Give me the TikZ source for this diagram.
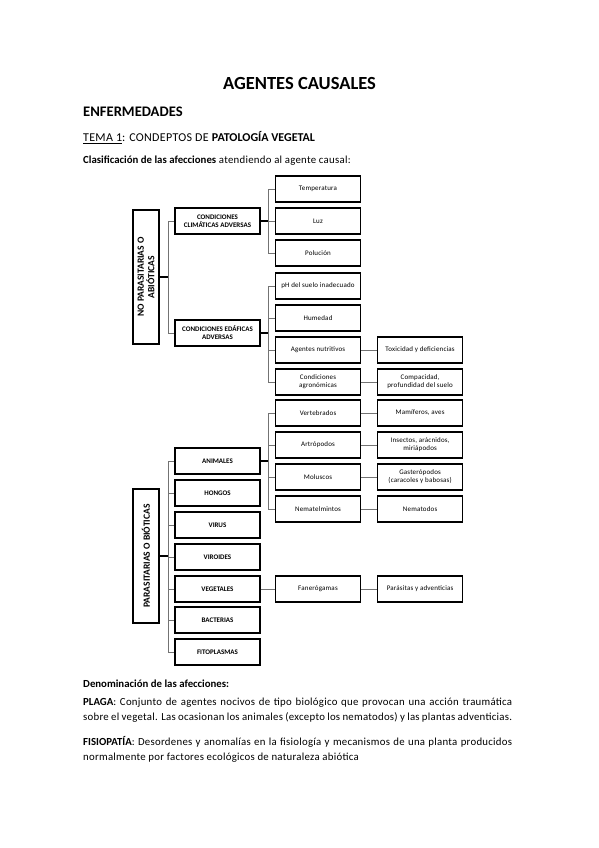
\documentclass[tikz,border=0pt]{standalone}
\usepackage{fontspec}
\setmainfont{Carlito}[LetterSpace=2.5, BoldFeatures={LetterSpace=0}]
\usetikzlibrary{positioning}
\tikzset{
    catBox/.style={draw=black, line width=1.1pt, minimum width=85, minimum height=26, inner sep=1pt, align=center, font=\fontsize{7}{8}\selectfont},
    capBox/.style={catBox, font=\fontsize{7}{8}\selectfont\bfseries},
    rootBox/.style={draw=black, line width=1.3pt, rotate=90, minimum width=134, minimum height=26, inner sep=1pt, align=center, font=\fontsize{9.5}{10.5}\selectfont\bfseries},
    stemLine/.style={black, line width=1.1pt},
    twigLine/.style={black!55, line width=0.7pt},
    bodyText/.style={anchor=base west, inner sep=0pt, font=\fontsize{10.8}{14.5}\selectfont},
    paraText/.style={anchor=north west, inner sep=0pt, text width=429, align=justify, font=\fontsize{10.8}{14.8}\selectfont}
}

\begin{document}
\begin{tikzpicture}[x=1pt, y=-1pt]
    \useasboundingbox (0,0) rectangle (599,848);
    % --- Heading ---
    \node[anchor=base, inner sep=0pt, font=\fontsize{18.5}{21}\selectfont\bfseries] (title) at (299.5,90) {AGENTES CAUSALES};
    \node[bodyText, font=\fontsize{14.6}{17}\selectfont\bfseries] (enf) at (83,117) {ENFERMEDADES};
    \node[bodyText, font=\fontsize{12}{14}\selectfont] (tema) at (83,142) {\underline{TEMA 1}: CONDEPTOS DE \textbf{PATOLOGÍA VEGETAL}};
    \node[bodyText] (clasif) at (83,163) {\textbf{Clasificación de las afecciones} atendiendo al agente causal:};

    % --- No parasitarias ---
    \node[rootBox] (abio) at (146,277) {NO PARASITARIAS O\\ABIÓTICAS};
    \node[capBox] (clim) at (217.5,221) {CONDICIONES\\CLIMÁTICAS ADVERSAS};
    \node[capBox] (edaf) at (217.5,333) {CONDICIONES EDÁFICAS\\ADVERSAS};
    \node[catBox] (temp) at (318,189) {Temperatura};
    \node[catBox] (luz) at (318,221) {Luz};
    \node[catBox] (polu) at (318,253) {Polución};
    \node[catBox] (ph) at (318,286) {pH del suelo inadecuado};
    \node[catBox] (hum) at (318,318) {Humedad};
    \node[catBox] (nutr) at (318,350) {Agentes nutritivos};
    \node[catBox] (agro) at (318,382) {Condiciones\\agronómicas};
    \node[catBox, right=16 of nutr] (toxi) {Toxicidad y deficiencias};
    \node[catBox, right=16 of agro] (comp) {Compacidad,\\profundidad del suelo};

    \coordinate (abioT) at (168,277);
    \draw[stemLine] (abio) -- (abioT);
    \foreach \c in {clim,edaf} \draw[twigLine] (abioT) |- (\c.west);
    \draw[stemLine] (clim.east) -- ++(8,0) coordinate (climT);
    \foreach \c in {temp,luz,polu} \draw[twigLine] (climT) |- (\c.west);
    \draw[stemLine] (edaf.east) -- ++(8,0) coordinate (edafT);
    \foreach \c in {ph,hum,nutr,agro} \draw[twigLine] (edafT) |- (\c.west);
    \draw[twigLine] (nutr) -- (toxi);
    \draw[twigLine] (agro) -- (comp);

    % --- Parasitarias ---
    \node[rootBox] (bio) at (146,556) {PARASITARIAS O BIÓTICAS};
    \node[capBox] (anim) at (217.5,461) {ANIMALES};
    \node[capBox] (hong) at (217.5,493) {HONGOS};
    \node[capBox] (viru) at (217.5,525) {VIRUS};
    \node[capBox] (viro) at (217.5,557) {VIROIDES};
    \node[capBox] (vege) at (217.5,589) {VEGETALES};
    \node[capBox] (bact) at (217.5,620) {BACTERIAS};
    \node[capBox] (fito) at (217.5,652) {FITOPLASMAS};
    \node[catBox] (vert) at (318,413) {Vertebrados};
    \node[catBox] (artr) at (318,445) {Artrópodos};
    \node[catBox] (molu) at (318,477) {Moluscos};
    \node[catBox] (nema) at (318,509) {Nematelmintos};
    \node[catBox] (fane) at (318,589) {Fanerógamas};
    \node[catBox, right=16 of vert] (mami) {Mamíferos, aves};
    \node[catBox, right=16 of artr] (inse) {Insectos, arácnidos,\\miriápodos};
    \node[catBox, right=16 of molu] (gast) {Gasterópodos\\(caracoles y babosas)};
    \node[catBox, right=16 of nema] (nemd) {Nematodos};
    \node[catBox, right=16 of fane] (para) {Parásitas y adventicias};

    \coordinate (bioT) at (168,556);
    \draw[stemLine] (bio) -- (bioT);
    \foreach \c in {anim,hong,viru,viro,vege,bact,fito} \draw[twigLine] (bioT) |- (\c.west);
    \draw[stemLine] (anim.east) -- ++(8,0) coordinate (animT);
    \foreach \c in {vert,artr,molu,nema} \draw[twigLine] (animT) |- (\c.west);
    \draw[twigLine] (vert) -- (mami);
    \draw[twigLine] (artr) -- (inse);
    \draw[twigLine] (molu) -- (gast);
    \draw[twigLine] (nema) -- (nemd);
    \draw[twigLine] (vege) -- (fane);
    \draw[twigLine] (fane) -- (para);

    % --- Denominacion ---
    \node[bodyText] (denom) at (83,687) {\textbf{Denominación de las afecciones:}};
    \node[paraText] (plaga) at (83,698) {\textbf{PLAGA}: Conjunto de agentes nocivos de tipo biológico que provocan una acción traumática\linebreak sobre el vegetal. Las ocasionan los animales (excepto los nematodos) y las plantas adventicias.};
    \node[paraText] (fisio) at (83,736) {\textbf{FISIOPATÍA}: Desordenes y anomalías en la fisiología y mecanismos de una planta producidos\linebreak normalmente por factores ecológicos de naturaleza abiótica};
\end{tikzpicture}
\end{document}
